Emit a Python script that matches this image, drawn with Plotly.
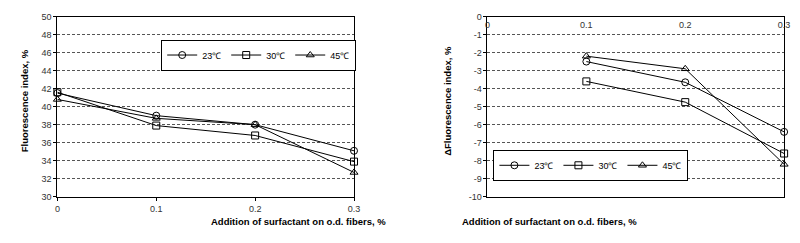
import plotly.graph_objects as go

# Left chart data
x_left = [0, 0.1, 0.2, 0.3]
fi_23 = [41.5, 39.0, 38.0, 35.1]
fi_30 = [41.6, 37.9, 36.8, 33.9]
fi_45 = [40.8, 38.7, 38.0, 32.7]

# Right chart data
x_right = [0.1, 0.2, 0.3]
dfi_23 = [-2.5, -3.65, -6.4]
dfi_30 = [-3.6, -4.75, -7.6]
dfi_45 = [-2.2, -2.9, -8.2]

names = ["23\u2103", "30\u2103", "45\u2103"]
symbols = ["circle-open", "square-open", "triangle-up-open"]

x_ticks = [0, 0.1, 0.2, 0.3]
x_ticklabels = ["0", "0.1", "0.2", "0.3"]
yl_ticks = list(range(30, 51, 2))
yr_ticks = list(range(-10, 1))

FONT = "Liberation Sans, Arial, sans-serif"
TICKC = "#333"

fig = go.Figure()

for ys, nm, sym in zip([fi_23, fi_30, fi_45], names, symbols):
    fig.add_trace(go.Scatter(
        x=x_left, y=ys, name=nm, mode="lines+markers", cliponaxis=False,
        line=dict(color="black", width=1),
        marker=dict(symbol=sym, size=7, color="black", line=dict(width=1, color="black")),
        xaxis="x", yaxis="y", legend="legend",
    ))

for ys, nm, sym in zip([dfi_23, dfi_30, dfi_45], names, symbols):
    fig.add_trace(go.Scatter(
        x=x_right, y=ys, name=nm, mode="lines+markers", cliponaxis=False,
        line=dict(color="black", width=1),
        marker=dict(symbol=sym, size=7, color="black", line=dict(width=1, color="black")),
        xaxis="x2", yaxis="y2", legend="legend2",
    ))

ydom = [43 / 243, 231 / 243]
grid = dict(showgrid=True, gridcolor="#555", gridwidth=1, griddash="3px,2px")

legend_common = dict(
    xanchor="left", yanchor="top",
    orientation="h", bgcolor="white", bordercolor="black", borderwidth=1,
    font=dict(size=9, color="black"), itemwidth=30,
)

fig.update_layout(
    width=800, height=243,
    margin=dict(l=0, r=0, t=0, b=0),
    paper_bgcolor="white", plot_bgcolor="white",
    font=dict(family=FONT, size=9, color=TICKC),
    xaxis=dict(
        domain=[55 / 800, 355 / 800], range=[0, 0.3],
        tickvals=x_ticks, ticktext=x_ticklabels,
        showline=True, linecolor="black", linewidth=1, mirror=True,
        ticks="outside", ticklen=3, tickcolor="black",
        showgrid=False, zeroline=False, anchor="y",
        tickfont=dict(size=9, color=TICKC),
    ),
    yaxis=dict(
        domain=ydom, range=[30, 50],
        tickvals=yl_ticks, ticktext=[str(v) for v in yl_ticks],
        showline=True, linecolor="black", linewidth=1, mirror=True,
        ticks="outside", ticklen=3, tickcolor="black",
        zeroline=False, anchor="x",
        tickfont=dict(size=9, color=TICKC),
        **grid,
    ),
    xaxis2=dict(
        domain=[490 / 800, 790 / 800], range=[0, 0.3],
        tickvals=x_ticks, ticktext=x_ticklabels,
        side="top", ticklabelposition="inside", ticklabeloverflow="allow",
        ticklabelstandoff=4,
        showline=True, linecolor="black", linewidth=1, mirror=True,
        ticks="", showgrid=False, zeroline=False, anchor="y2",
        tickfont=dict(size=9, color=TICKC),
    ),
    yaxis2=dict(
        domain=ydom, range=[-10, 0],
        tickvals=yr_ticks, ticktext=[str(v) for v in yr_ticks],
        showline=True, linecolor="black", linewidth=1, mirror=True,
        ticks="outside", ticklen=3, tickcolor="black",
        zeroline=False, anchor="x2",
        tickfont=dict(size=9, color=TICKC),
        **grid,
    ),
    legend=dict(x=160 / 800, y=(243 - 36) / 243, **legend_common),
    legend2=dict(x=496 / 800, y=(243 - 151) / 243, **legend_common),
    showlegend=True,
)

title_font = dict(family=FONT, size=9.5, color="black", weight="bold")
xtitle = "Addition of surfactant on o.d. fibers, %"
fig.add_annotation(x=208 / 800, y=(243 - 234) / 243, xref="paper", yref="paper",
                   text=xtitle, showarrow=False, font=title_font)
fig.add_annotation(x=643 / 800, y=(243 - 234) / 243, xref="paper", yref="paper",
                   text=xtitle, showarrow=False, font=title_font)
fig.add_annotation(x=15 / 800, y=(243 - 100) / 243, xref="paper", yref="paper",
                   text="Fluorescence index, %", textangle=-90, showarrow=False, font=title_font)
fig.add_annotation(x=450 / 800, y=(243 - 100) / 243, xref="paper", yref="paper",
                   text="\u0394Fluorescence index, %", textangle=-90, showarrow=False, font=title_font)

fig.write_html("out.html")
